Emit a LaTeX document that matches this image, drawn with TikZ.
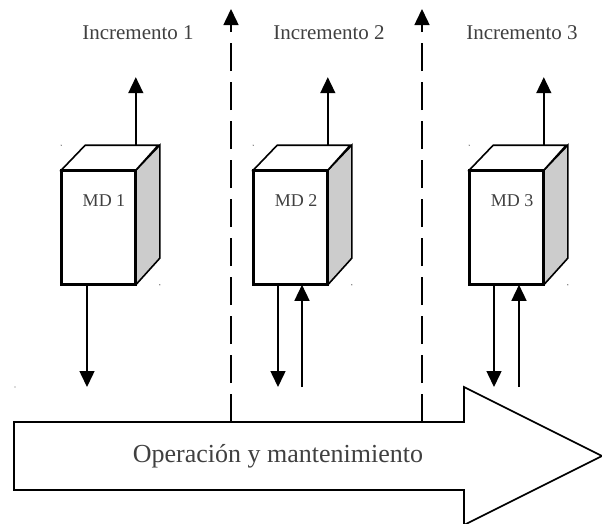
\documentclass[tikz,border=0pt]{standalone}
\usepackage{fontspec}
\setmainfont{Liberation Serif}
\usetikzlibrary{arrows.meta}
\definecolor{txt}{HTML}{404040}
\definecolor{side}{HTML}{CCCCCC}
\tikzset{
  front/.style={draw, line width=1.6pt, fill=white, minimum width=73pt, minimum height=113pt, inner sep=0pt},
  face/.style={draw, line width=1.6pt, line join=miter},
  flow/.style={line width=1.5pt, -{Triangle[length=16pt,width=15pt]}},
  limit/.style={line width=1.5pt, dash pattern=on 28pt off 11pt, -{Triangle[length=16pt,width=15pt]}},
  label/.style={text=txt, font=\fontsize{21}{23}\selectfont, inner sep=0pt},
  mdtext/.style={text=txt, font=\fontsize{18}{20}\selectfont, inner sep=0pt},
  speck/.style={fill=black!60, circle, inner sep=0pt, minimum size=1.4pt},
}
\begin{document}
\begin{tikzpicture}[x=1pt, y=-1pt]
\useasboundingbox (0,0) rectangle (602,523);

% increment boundaries
\coordinate (b1) at (231,422);
\coordinate (b1top) at (231,9);
\coordinate (b2) at (422,422);
\coordinate (b2top) at (422,9);
\draw[limit] (b1) -- (b1top);
\draw[limit] (b2) -- (b2top);

% operation and maintenance arrow
\draw[line width=1.6pt, fill=white, line join=miter]
  (14,422) -- (464,422) -- (464,387) -- (602,456) -- (464,525) -- (464,490) -- (14,490) -- cycle;
\node[text=txt, font=\fontsize{26}{28}\selectfont, inner sep=0pt] (om) at (278,456) {Operación y mantenimiento};

% increment titles
\node[label] (i1) at (138,33) {Incremento 1};
\node[label] (i2) at (329,33) {Incremento 2};
\node[label] (i3) at (522,33) {Incremento 3};

% boxes: front face as node, top and side faces from its corners
\foreach \n/\x in {1/98.5, 2/290.5, 3/506.5} {
  \node[front] (md\n) at (\x,227.5) {};
  \fill[side] (md\n.north east) -- ++(24,-25) -- ++(0,113) -- (md\n.south east) -- cycle;
  \draw[face] (md\n.north east) -- ++(24,-25) -- ++(0,113) -- (md\n.south east);
  \draw[face, fill=white] (md\n.north west) -- ++(24,-25) -- ++(73,0) -- (md\n.north east) -- cycle;
  \draw[line width=1.6pt] (md\n.north west) rectangle (md\n.south east);
  \node[mdtext] at ([xshift=5.5pt, yshift=-30pt]md\n.north) {MD \n};
  \coordinate (up\n) at ([yshift=93pt]md\n.north east);
  \draw[flow] ([yshift=25pt]md\n.north east) -- (up\n);
  \node[speck] at ([yshift=25pt]md\n.north west) {};
  \node[speck] at ([xshift=24pt]md\n.south east) {};
}
\node[speck] at (15,387) {};

% outputs from and returns into each box
\coordinate (d1) at (87,387);
\draw[flow] (md1.south west -| d1) -- (d1);
\coordinate (d2) at (278,387);
\coordinate (r2) at (302,387);
\draw[flow] (md2.south west -| d2) -- (d2);
\draw[flow] (r2) -- (md2.south west -| r2);
\coordinate (d3) at (494,387);
\coordinate (r3) at (519,387);
\draw[flow] (md3.south west -| d3) -- (d3);
\draw[flow] (r3) -- (md3.south west -| r3);
\end{tikzpicture}
\end{document}
